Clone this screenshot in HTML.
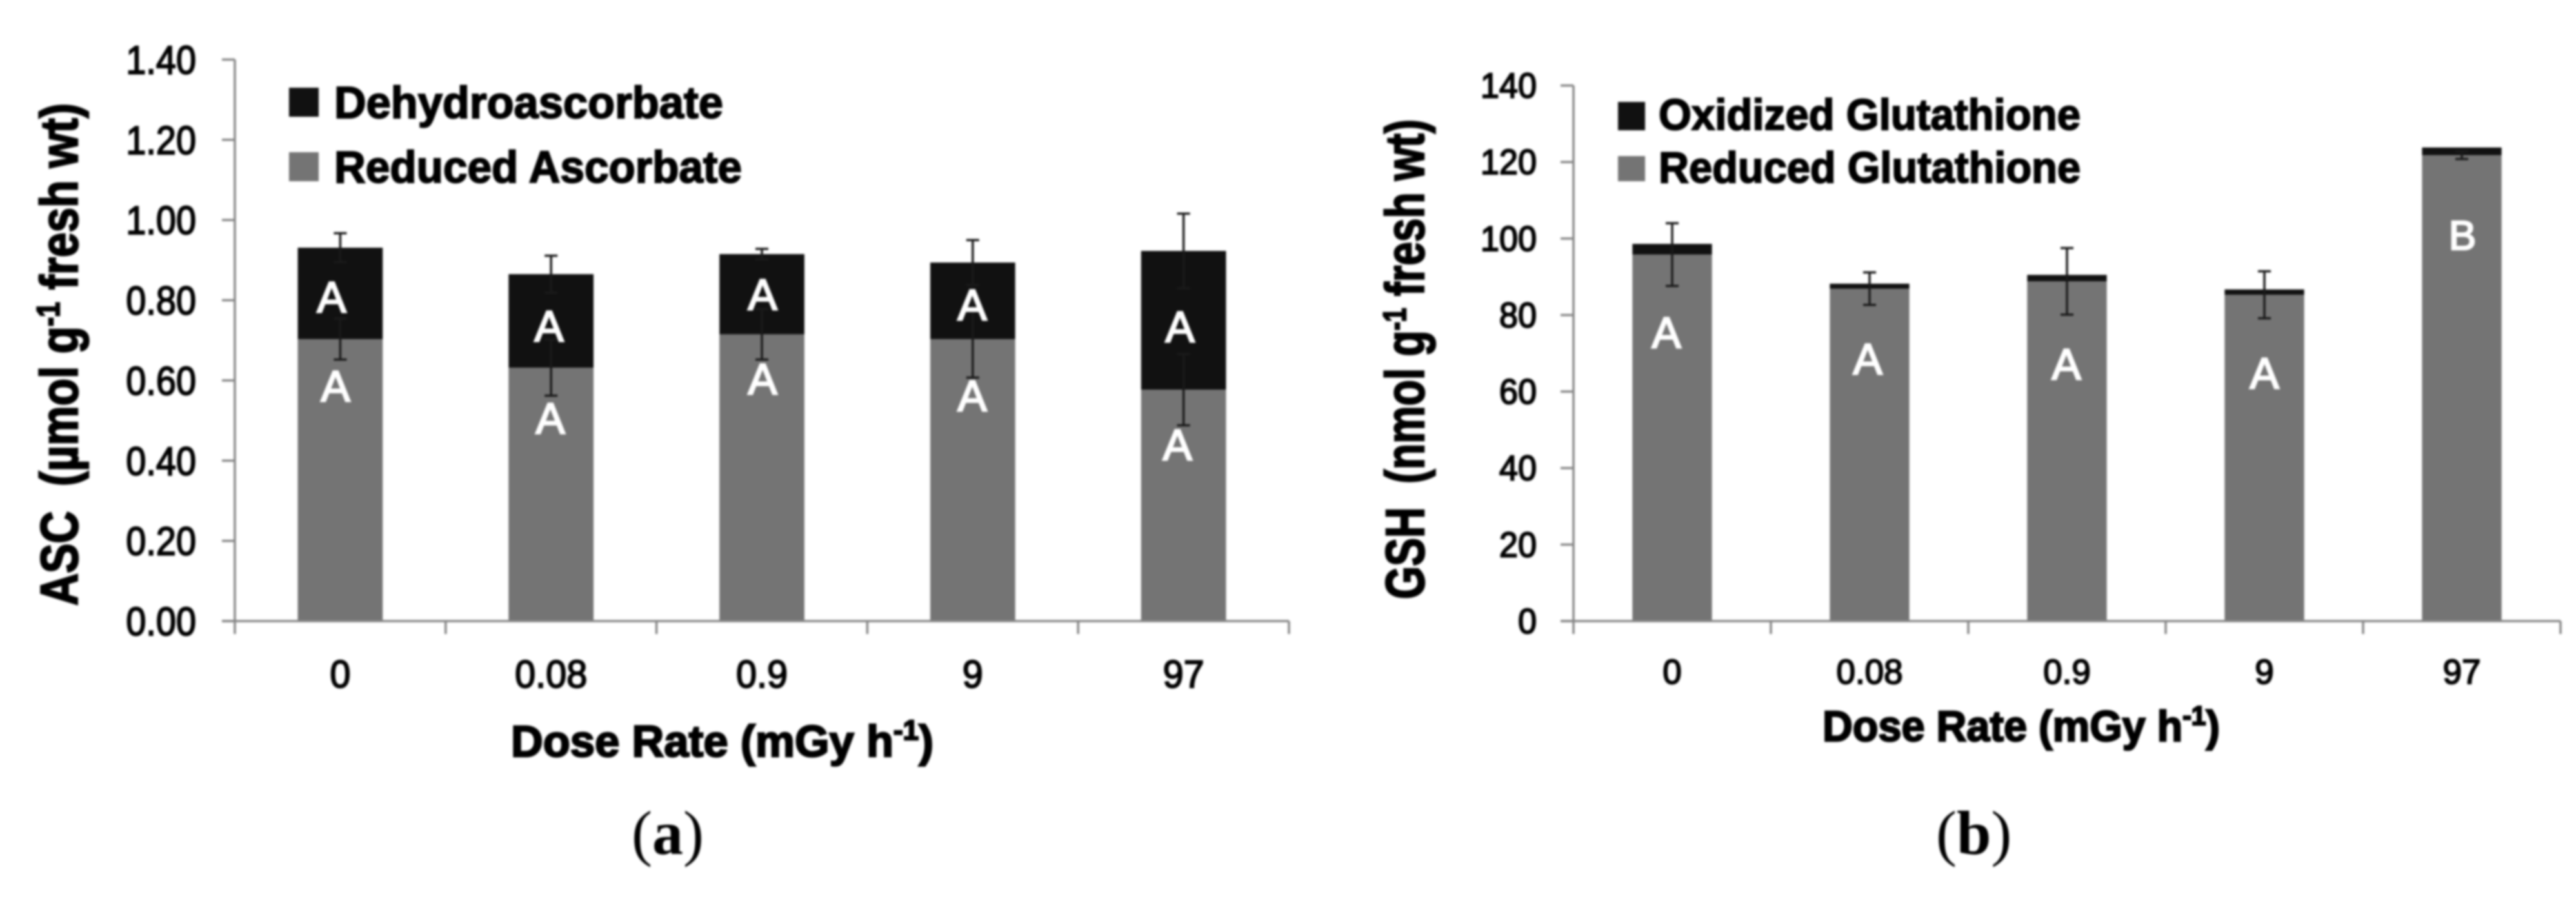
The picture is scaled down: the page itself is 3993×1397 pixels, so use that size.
<!DOCTYPE html>
<html lang="en">
<head>
<meta charset="utf-8">
<title>ASC and GSH by dose rate</title>
<style>
html,body{margin:0;padding:0;background:#fff;}
#figure{display:block;width:3993px;height:1397px;filter:blur(1.5px);}
text{font-family:"Liberation Sans",sans-serif;}
.tick{fill:#000;stroke:#000;stroke-width:2px;}
.title{fill:#000;font-weight:700;stroke:#000;stroke-width:2.5px;}
.legend{fill:#000;font-weight:700;font-size:70px;stroke:#000;stroke-width:2px;}
.letter{fill:#fff;stroke:#fff;stroke-width:2.5px;font-size:68px;text-anchor:middle;}
.panel{fill:#000;font-family:"Liberation Serif",serif;font-size:96px;}
</style>
</head>
<body>
<svg id="figure" xmlns="http://www.w3.org/2000/svg" width="3993" height="1397" viewBox="0 0 3993 1397">
  <rect width="3993" height="1397" fill="#fff"/>
  <g id="chart-a"></g>
  <g id="chart-b"></g>

  <!-- Chart a: titles and legend -->
  <text class="title" font-size="82" textLength="779" lengthAdjust="spacingAndGlyphs" transform="translate(120,939) rotate(-90)">ASC&#160;&#160;(µmol g<tspan font-size="50" dy="-28">-1</tspan><tspan dy="28"> fresh wt)</tspan></text>
  <text class="title" font-size="69" x="792" y="1173" textLength="655" lengthAdjust="spacingAndGlyphs">Dose Rate (mGy h<tspan font-size="44" dy="-26">-1</tspan><tspan dy="26">)</tspan></text>
  <rect x="448" y="136" width="46" height="45" fill="#111"/>
  <text class="legend" x="518" y="183" textLength="603" lengthAdjust="spacingAndGlyphs">Dehydroascorbate</text>
  <rect x="448" y="236" width="46" height="45" fill="#747474"/>
  <text class="legend" x="518" y="283" textLength="632" lengthAdjust="spacingAndGlyphs">Reduced Ascorbate</text>

  <!-- Chart b: titles and legend -->
  <text class="title" font-size="84" textLength="744" lengthAdjust="spacingAndGlyphs" transform="translate(2207,929) rotate(-90)">GSH&#160;&#160;(nmol g<tspan font-size="50" dy="-28">-1</tspan><tspan dy="28"> fresh wt)</tspan></text>
  <text class="title" font-size="67" x="2825" y="1149" textLength="616" lengthAdjust="spacingAndGlyphs">Dose Rate (mGy h<tspan font-size="42" dy="-25">-1</tspan><tspan dy="25">)</tspan></text>
  <rect x="2508" y="158" width="42" height="44" fill="#111"/>
  <text class="legend" style="font-size:68px" x="2571" y="201" textLength="654" lengthAdjust="spacingAndGlyphs">Oxidized Glutathione</text>
  <rect x="2508" y="242" width="42" height="39" fill="#747474"/>
  <text class="legend" style="font-size:68px" x="2571" y="283" textLength="654" lengthAdjust="spacingAndGlyphs">Reduced Glutathione</text>

  <!-- Panel captions -->
  <text class="panel" x="979" y="1324">(<tspan font-weight="700">a</tspan>)</text>
  <text class="panel" x="3001" y="1324">(<tspan font-weight="700">b</tspan>)</text>

  <!-- Significance letters, hand-placed as in the original figure -->
  <g id="letters">
    <text class="letter" x="514" y="484">A</text>
    <text class="letter" x="520" y="622">A</text>
    <text class="letter" x="851" y="529">A</text>
    <text class="letter" x="853" y="672">A</text>
    <text class="letter" x="1182" y="480">A</text>
    <text class="letter" x="1182" y="611">A</text>
    <text class="letter" x="1507" y="496">A</text>
    <text class="letter" x="1507" y="637">A</text>
    <text class="letter" x="1829" y="530">A</text>
    <text class="letter" x="1825" y="713">A</text>
    <text class="letter" x="2583" y="539">A</text>
    <text class="letter" x="2895" y="580">A</text>
    <text class="letter" x="3203" y="588">A</text>
    <text class="letter" x="3510" y="602">A</text>
    <text class="letter" x="3817" y="387" style="font-size:64px">B</text>
  </g>
</svg>
<script>
var categories = ['0', '0.08', '0.9', '9', '97'];

var ascReduced = [0.703, 0.632, 0.715, 0.703, 0.577];
var ascDehydro = [0.228, 0.233, 0.200, 0.191, 0.346];
var ascReducedErr = [0.051, 0.070, 0.063, 0.096, 0.089];
var ascDehydroErr = [0.036, 0.046, 0.013, 0.056, 0.093];
var ascTickValues = [0, 0.2, 0.4, 0.6, 0.8, 1.0, 1.2, 1.4];
var ascTickLabels = ['0.00', '0.20', '0.40', '0.60', '0.80', '1.00', '1.20', '1.40'];

var gshReduced = [95.8, 86.9, 88.8, 85.3, 121.8];
var gshOxidized = [2.8, 1.3, 1.7, 1.4, 2.0];
var gshReducedErr = [8.2, 4.25, 8.7, 6.15, 1.0];
var gshTickValues = [0, 20, 40, 60, 80, 100, 120, 140];
var gshTickLabels = ['0', '20', '40', '60', '80', '100', '120', '140'];

var SVG_NS = 'http://www.w3.org/2000/svg';

function make(parent, tag, attrs, content) {
  var node = document.createElementNS(SVG_NS, tag);
  for (var key in attrs) {
    node.setAttribute(key, attrs[key]);
  }
  if (content !== undefined) {
    node.textContent = content;
  }
  parent.appendChild(node);
  return node;
}

function drawChart(root, cfg) {
  var band = (cfg.right - cfg.left) / cfg.categories.length;
  var barWidth = band * 0.403;
  function xScale(i) { return cfg.left + band * (i + 0.5); }
  function yScale(v) { return cfg.zero - (v / cfg.max) * (cfg.zero - cfg.top); }

  // Bars
  cfg.categories.forEach(function (cat, i) {
    var lowTop = yScale(cfg.lower[i]);
    var upTop = yScale(cfg.lower[i] + cfg.upper[i]);
    var barLow = make(root, 'rect', { x: xScale(i) - barWidth / 2, y: lowTop, width: barWidth, height: cfg.zero - lowTop, fill: '#747474' });
    
    
    var barUp = make(root, 'rect', { x: xScale(i) - barWidth / 2, y: upTop, width: barWidth, height: lowTop - upTop, fill: '#111' });
    
    
  });

  // Error bars
  function errorBar(i, center, err, label) {
    var cx = xScale(i);
    var y1 = yScale(center + err);
    var y2 = yScale(center - err);
    var d = 'M' + cx + ' ' + y1 + 'V' + y2 +
      'M' + (cx - 10) + ' ' + y1 + 'H' + (cx + 10) +
      'M' + (cx - 10) + ' ' + y2 + 'H' + (cx + 10);
    var path = make(root, 'path', { d: d, fill: 'none', stroke: '#1a1a1a', 'stroke-width': 3.5 });
    
    
  }
  cfg.categories.forEach(function (cat, i) {
    errorBar(i, cfg.lower[i], cfg.lowerErr[i], 'lower');
    if (cfg.upperErr) {
      errorBar(i, cfg.lower[i] + cfg.upper[i], cfg.upperErr[i], 'upper');
    }
  });

  // Y axis
  var yAxis = make(root, 'line', { x1: cfg.left, x2: cfg.left, y1: cfg.top, y2: cfg.zero + 20, stroke: '#868686', 'stroke-width': 3.5 });
  
  
  cfg.tickValues.forEach(function (v, i) {
    var y = yScale(v);
    var tick = make(root, 'line', { x1: cfg.left - 20, x2: cfg.left, y1: y, y2: y, stroke: '#868686', 'stroke-width': 3.5 });
    
    
    var label = make(root, 'text', {
      'class': 'tick', 'font-size': cfg.yFont, 'text-anchor': 'end',
      transform: 'translate(' + cfg.yLabelRight + ',' + (y + cfg.yLabelDrop) + ') scale(' + cfg.yStretch + ',1)'
    }, cfg.tickLabels[i]);
    
    
  });

  // X axis
  var xAxis = make(root, 'line', { x1: cfg.left - 20, x2: cfg.right, y1: cfg.zero, y2: cfg.zero, stroke: '#868686', 'stroke-width': 3.5 });
  
  
  for (var k = 1; k <= cfg.categories.length; k++) {
    var tx = cfg.left + band * k;
    var xTick = make(root, 'line', { x1: tx, x2: tx, y1: cfg.zero, y2: cfg.zero + 20, stroke: '#868686', 'stroke-width': 3.5 });
    
    
  }
  cfg.categories.forEach(function (cat, i) {
    var label = make(root, 'text', {
      'class': 'tick', 'font-size': cfg.xFont, 'text-anchor': 'middle',
      transform: 'translate(' + xScale(i) + ',' + cfg.xLabelY + ') scale(' + cfg.xStretch + ',1)'
    }, cat);
    
    
  });
}

drawChart(document.getElementById('chart-a'), {
  id: 'asc', categories: categories,
  lower: ascReduced, upper: ascDehydro, lowerErr: ascReducedErr, upperErr: ascDehydroErr,
  tickValues: ascTickValues, tickLabels: ascTickLabels, max: 1.4,
  left: 364, right: 1998, zero: 963, top: 92.4,
  yFont: 62, yStretch: 0.9, yLabelRight: 304, yLabelDrop: 22,
  xFont: 60, xStretch: 0.96, xLabelY: 1066
});

drawChart(document.getElementById('chart-b'), {
  id: 'gsh', categories: categories,
  lower: gshReduced, upper: gshOxidized, lowerErr: gshReducedErr, upperErr: null,
  tickValues: gshTickValues, tickLabels: gshTickLabels, max: 140,
  left: 2439, right: 3969, zero: 963, top: 132.6,
  yFont: 55, yStretch: 0.95, yLabelRight: 2382, yLabelDrop: 19,
  xFont: 54, xStretch: 0.98, xLabelY: 1060
});
</script>
</body>
</html>
